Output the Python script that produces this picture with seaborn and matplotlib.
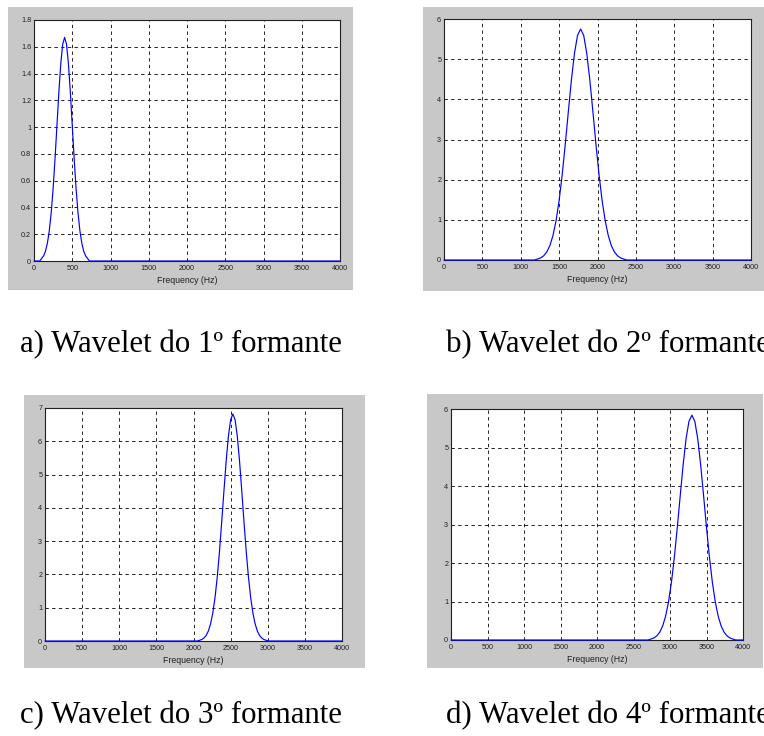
import matplotlib
matplotlib.use("Agg")
import matplotlib.pyplot as plt
from matplotlib.patches import Rectangle
from matplotlib.ticker import FuncFormatter, MultipleLocator
import seaborn as sns

# Frequency axis samples (Hz) and wavelet magnitude for each formant
freq_f1 = [0, 75, 100, 125, 150, 175, 200, 225, 250, 275, 300, 325, 350, 375,
           400, 425, 450, 475, 500, 525, 550, 575, 600, 625, 650, 675, 700,
           725, 4000]
amp_f1 = [0.0, 0.0, 0.019, 0.038, 0.073, 0.133, 0.226, 0.361, 0.542, 0.765,
          1.013, 1.261, 1.474, 1.619, 1.670, 1.619, 1.474, 1.261, 1.013, 0.765,
          0.542, 0.361, 0.226, 0.133, 0.073, 0.038, 0.019, 0.0, 0.0]

freq_f2 = [0, 1180, 1220, 1260, 1300, 1340, 1380, 1420, 1460, 1500, 1540,
           1580, 1620, 1660, 1700, 1740, 1780, 1820, 1860, 1900, 1940, 1980,
           2020, 2060, 2100, 2140, 2180, 2220, 2260, 2300, 2340, 2380, 4000]
amp_f2 = [0.0, 0.0, 0.025, 0.053, 0.107, 0.202, 0.361, 0.611, 0.978, 1.481,
          2.123, 2.878, 3.693, 4.482, 5.147, 5.593, 5.750, 5.593, 5.147, 4.482,
          3.693, 2.878, 2.123, 1.481, 0.978, 0.611, 0.361, 0.202, 0.107, 0.053,
          0.025, 0.0, 0.0]

freq_f3 = [0, 2050, 2080, 2110, 2140, 2170, 2200, 2230, 2260, 2290, 2320,
           2350, 2380, 2410, 2440, 2470, 2500, 2530, 2560, 2590, 2620, 2650,
           2680, 2710, 2740, 2770, 2800, 2830, 2860, 2890, 2920, 2950, 2980,
           3010, 4000]
amp_f3 = [0.0, 0.0, 0.020, 0.043, 0.087, 0.166, 0.300, 0.515, 0.842, 1.306,
          1.924, 2.691, 3.576, 4.511, 5.406, 6.151, 6.646, 6.820, 6.646, 6.151,
          5.406, 4.511, 3.576, 2.691, 1.924, 1.306, 0.842, 0.515, 0.300, 0.166,
          0.087, 0.043, 0.020, 0.0, 0.0]

freq_f4 = [0, 2700, 2740, 2780, 2820, 2860, 2900, 2940, 2980, 3020, 3060,
           3100, 3140, 3180, 3220, 3260, 3300, 3340, 3380, 3420, 3460, 3500,
           3540, 3580, 3620, 3660, 3700, 3740, 3780, 3820, 3860, 3900, 4000]
amp_f4 = [0.0, 0.0, 0.026, 0.054, 0.109, 0.205, 0.367, 0.620, 0.993, 1.504,
          2.156, 2.924, 3.750, 4.552, 5.228, 5.681, 5.840, 5.681, 5.228, 4.552,
          3.750, 2.924, 2.156, 1.504, 0.993, 0.620, 0.367, 0.205, 0.109, 0.054,
          0.026, 0.0, 0.0]

y_max = [1.8, 6, 7, 6]
y_step = [0.2, 1, 1, 1]
x_ticks = [0, 500, 1000, 1500, 2000, 2500, 3000, 3500, 4000]
x_label = "Frequency (Hz)"
captions = ["a) Wavelet do 1º formante", "b) Wavelet do 2º formante",
            "c) Wavelet do 3º formante", "d) Wavelet do 4º formante"]

sns.set_style("white")
plt.rcParams["font.family"] = ["Liberation Sans", "DejaVu Sans"]

W, H = 764, 736
fig = plt.figure(figsize=(W / 100, H / 100), dpi=100)
fig.patch.set_facecolor("white")


def fx(px):
    return px / W


def fy(py):
    return 1 - py / H


# pixel boxes: (gray panel), (axes)
panels = [
    ((8, 7, 353, 290), (34, 20, 340, 261)),
    ((423, 7, 764, 291), (444, 19, 751, 260)),
    ((24, 395, 365, 668), (45, 408, 342, 641)),
    ((427, 394, 763, 668), (451, 409, 743, 640)),
]
caption_pos = [(20, 352), (446, 352), (20, 723), (446, 723)]
series = [(freq_f1, amp_f1), (freq_f2, amp_f2), (freq_f3, amp_f3), (freq_f4, amp_f4)]

for i, ((g0, g1, g2, g3), (a0, a1, a2, a3)) in enumerate(panels):
    fig.patches.append(Rectangle((fx(g0), fy(g3)), fx(g2) - fx(g0), fy(g1) - fy(g3),
                                 transform=fig.transFigure, facecolor="#c8c8c8",
                                 edgecolor="none", zorder=-5))
    ax = fig.add_axes([fx(a0), fy(a3), fx(a2) - fx(a0), fy(a1) - fy(a3)])
    ax.set_facecolor("white")
    freq, amp = series[i]
    sns.lineplot(x=freq, y=amp, ax=ax, color="#0000ff", linewidth=0.85,
                 sort=False, estimator=None, zorder=5)
    for ln in ax.lines:
        ln.set_clip_on(False)
    ax.set_xlim(0, 4000)
    ax.set_ylim(0, y_max[i])
    ax.set_xticks(x_ticks)
    ax.yaxis.set_major_locator(MultipleLocator(y_step[i]))
    ax.yaxis.set_major_formatter(FuncFormatter(lambda v, p: f"{round(v, 4):g}"))
    ax.grid(True, color="black", linestyle=(0, (4, 4)), linewidth=0.6)
    ax.set_axisbelow(True)
    for s in ax.spines.values():
        s.set_color("#202020")
        s.set_linewidth(0.8)
    ax.tick_params(direction="in", length=3, width=0.6, colors="#202020",
                   labelsize=5.2)
    ax.tick_params(axis="x", pad=3)
    ax.tick_params(axis="y", pad=2)
    ax.set_xlabel(x_label, fontsize=6.3, color="#202020", labelpad=2.5)
    cx, cy = caption_pos[i]
    fig.text(fx(cx), fy(cy), captions[i], fontsize=22.2, va="baseline",
             ha="left", family=["Liberation Serif", "DejaVu Serif"], color="black")

fig.savefig("out.png", dpi=100, facecolor="white")
